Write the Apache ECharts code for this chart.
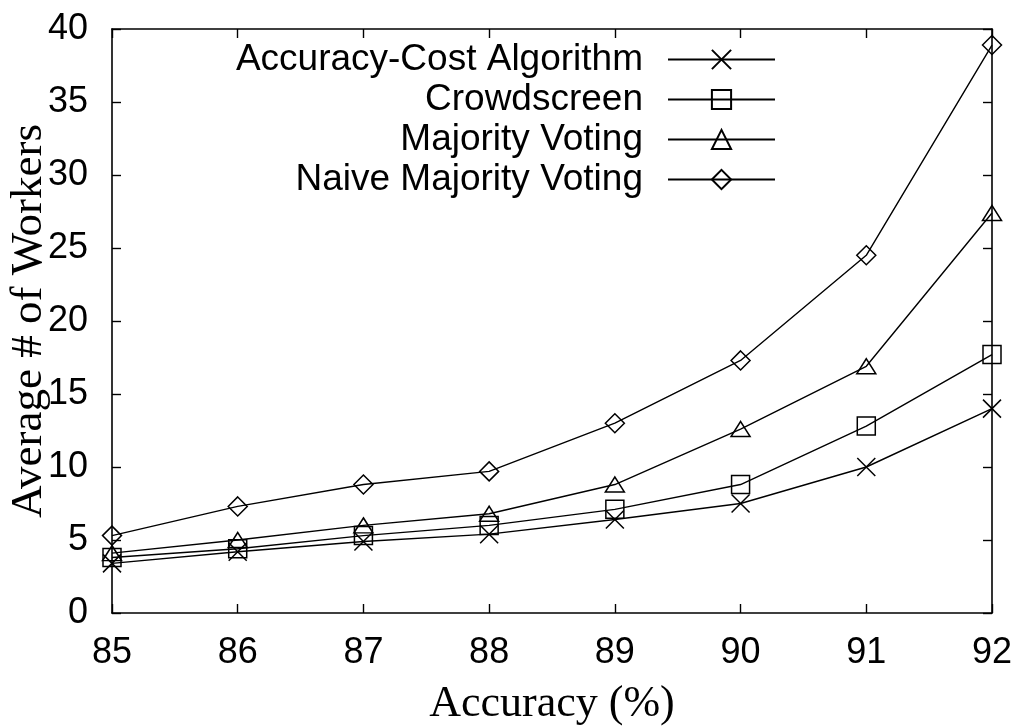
<!DOCTYPE html>
<html>
<head>
<meta charset="utf-8">
<script src="https://cdn.jsdelivr.net/npm/echarts@6/dist/echarts.min.js"></script>
<style>
  html, body { margin: 0; padding: 0; background: #fff; }
  #chart { width: 1019px; height: 726px; }
</style>
</head>
<body>
<div id="chart"></div>
<script>
// Accuracy level (%) on the x axis
const accuracy = [85, 86, 87, 88, 89, 90, 91, 92];

// Average number of workers needed per method
const accuracyCost   = [3.4, 4.2, 4.9, 5.4, 6.4, 7.5, 10.0, 14.0];
const crowdscreen    = [3.8, 4.4, 5.3, 6.0, 7.1, 8.8, 12.8, 17.7];
const majorityVoting = [4.1, 5.0, 6.0, 6.8, 8.8, 12.6, 16.9, 27.4];
const naiveMajority  = [5.3, 7.3, 8.8, 9.7, 13.0, 17.3, 24.5, 38.9];

const seriesNames = [
  'Accuracy-Cost Algorithm',
  'Crowdscreen',
  'Majority Voting',
  'Naive Majority Voting'
];

const yTicks = { min: 0, max: 40, step: 5 };
const xTicks = { min: 85, max: 92, step: 1 };

// Hollow gnuplot-style point markers
const markers = {
  cross:    'path://M0,0L10,10M10,0L0,10',
  square:   'path://M0,0L10,0L10,10L0,10Z',
  triangle: 'path://M5,0L10,8L0,8Z',
  diamond:  'path://M5,0L10,5L5,10L0,5Z'
};

const sans = 'Liberation Sans, Arial, sans-serif';
const serif = 'Liberation Serif, Times New Roman, serif';

function pairs(ys) {
  return accuracy.map((x, i) => [x, ys[i]]);
}

function makeSeries(name, ys, symbol, size) {
  return {
    name: name,
    type: 'line',
    data: pairs(ys),
    symbol: symbol,
    symbolSize: size,
    showAllSymbol: true,
    animation: false,
    lineStyle: { color: '#000', width: 1.4 },
    itemStyle: { color: 'rgba(0,0,0,0)', borderColor: '#000', borderWidth: 1.5 },
    emphasis: { disabled: true },
    z: 3
  };
}

const frameLine = { show: true, onZero: false, lineStyle: { color: '#000', width: 1.6 } };
const innerTick = { show: true, inside: true, length: 9, lineStyle: { color: '#000', width: 1.4 } };

const chart = echarts.init(document.getElementById('chart'), null, { renderer: 'canvas' });

chart.setOption({
  backgroundColor: '#fff',
  animation: false,
  grid: {
    left: 112, top: 29, right: 27, bottom: 113,
    containLabel: false,
    outerBoundsMode: 'none'
  },
  legend: {
    orient: 'vertical',
    align: 'right',
    right: 243,
    top: 41,
    padding: 0,
    itemWidth: 107,
    itemHeight: 24,
    itemGap: 3,
    selectedMode: false,
    data: seriesNames,
    textStyle: {
      fontFamily: sans,
      fontSize: 37,
      color: '#000',
      padding: [0, 20, 0, 0]
    }
  },
  xAxis: [
    {
      type: 'value',
      position: 'bottom',
      min: xTicks.min, max: xTicks.max, interval: xTicks.step,
      name: 'Accuracy (%)',
      nameLocation: 'middle',
      nameGap: 69,
      nameMoveOverlap: false,
      nameTextStyle: { fontFamily: serif, fontSize: 44, color: '#000' },
      axisLine: frameLine,
      axisTick: innerTick,
      axisLabel: { color: '#000', fontFamily: sans, fontSize: 36, margin: 22 },
      splitLine: { show: false }
    },
    {
      type: 'value',
      position: 'top',
      min: xTicks.min, max: xTicks.max, interval: xTicks.step,
      axisLine: frameLine,
      axisTick: innerTick,
      axisLabel: { show: false },
      splitLine: { show: false }
    }
  ],
  yAxis: [
    {
      type: 'value',
      position: 'left',
      min: yTicks.min, max: yTicks.max, interval: yTicks.step,
      name: 'Average # of Workers',
      nameLocation: 'middle',
      nameRotate: 90,
      nameGap: 60,
      nameMoveOverlap: false,
      nameTextStyle: { fontFamily: serif, fontSize: 45, color: '#000' },
      axisLine: frameLine,
      axisTick: innerTick,
      axisLabel: { color: '#000', fontFamily: sans, fontSize: 36, margin: 24 },
      splitLine: { show: false }
    },
    {
      type: 'value',
      position: 'right',
      min: yTicks.min, max: yTicks.max, interval: yTicks.step,
      axisLine: frameLine,
      axisTick: innerTick,
      axisLabel: { show: false },
      splitLine: { show: false }
    }
  ],
  series: [
    makeSeries(seriesNames[0], accuracyCost, markers.cross, 18),
    makeSeries(seriesNames[1], crowdscreen, markers.square, 18),
    makeSeries(seriesNames[2], majorityVoting, markers.triangle, [19, 15]),
    makeSeries(seriesNames[3], naiveMajority, markers.diamond, 19)
  ]
});
</script>
</body>
</html>
